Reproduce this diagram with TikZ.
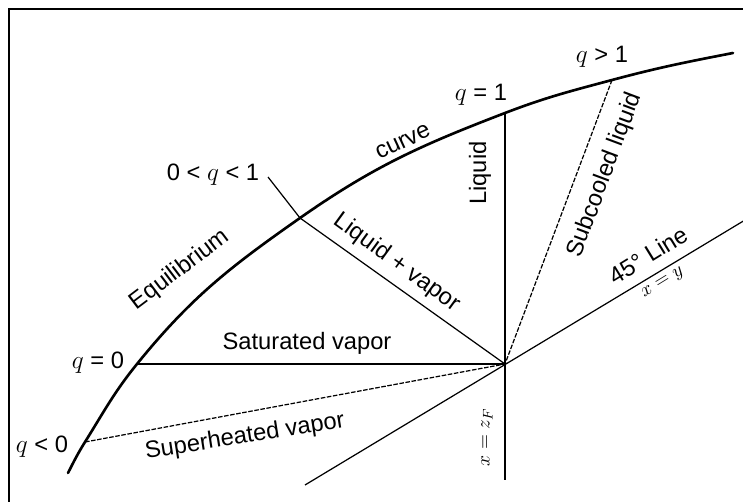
\documentclass[tikz,border=0pt]{standalone}
\usepackage{fontspec}
\setmainfont{Liberation Sans}
\usetikzlibrary{positioning,calc}

\begin{document}
\begin{tikzpicture}[x=0.02cm,y=0.02cm, every node/.style={align=center,inner sep=1pt,font=\fontsize{13.5}{16}\selectfont},
    small/.style={font=\fontsize{11}{13}\selectfont},
    eqcurve/.style={line width=1.5pt,line cap=round},
    opline/.style={line width=0.7pt},
    dashline/.style={line width=0.7pt,dash pattern=on 2.6pt off 0.9pt}]
        \useasboundingbox (0,0) rectangle (743,501);
        \clip (0,0) rectangle (743,501);
        \draw[line width=1.2pt] (9,-30) rectangle (780,492);
        \coordinate (c0) at (68,28);
        \coordinate (qneg) at (85,59);
        \coordinate (qzero) at (137,137);
        \coordinate (qmid) at (300,283);
        \coordinate (qone) at (505,388);
        \coordinate (qgt) at (612,421);
        \coordinate (c1) at (733,448);
        \coordinate (feed) at (505,137);
        \coordinate (qtop) at (268,324);
        \coordinate (vbot) at (505,21);
        \coordinate (dlo) at (305,16);
        \coordinate (dhi) at (760,290);
        \draw[eqcurve] (c0) to[out=63,in=238] (qneg) to[out=58,in=231] (qzero)
            to[out=51,in=215] (qmid) to[out=35,in=201] (qone)
            to[out=21,in=195] (qgt) to[out=15,in=191] (c1);
        \draw[opline] (qtop) -- (qmid) -- (feed);
        \draw[opline] (qone) -- (vbot);
        \draw[dashline] (qgt) -- (feed);
        \draw[opline] (qzero) -- (feed);
        \draw[dashline] (qneg) -- (feed);
        \draw[opline] (dlo) -- (dhi);
        \node (lmid) at (213,326) {0 < $q$ < 1};
        \node[rotate=37] (leq) at (180,231) {Equilibrium};
        \node[rotate=25] (lcurve) at (403,359) {curve};
        \node (lone) at (481,406) {$q$ = 1};
        \node (lgt) at (602,444) {$q$ > 1};
        \node (lzero) at (98,138) {$q$ = 0};
        \node (lneg) at (42,54) {$q$ < 0};
        \node[rotate=90] (lliq) at (480,328) {Liquid};
        \node[rotate=69.5] (lsub) at (605,326) {Subcooled liquid};
        \node[rotate=-36] (lmix) at (397,238) {Liquid + vapor};
        \node (lsat) at (307,158) {Saturated vapor};
        \node[rotate=9] (lsup) at (245,64) {Superheated vapor};
        \node[rotate=31.5] (ldiag) at (648,246) {45° Line};
        \node[small,rotate=31.5] (lxy) at (663,218) {$x = y$};
        \node[small,rotate=90] (lxz) at (487,64) {$x = z_F$};
\end{tikzpicture}
\end{document}
